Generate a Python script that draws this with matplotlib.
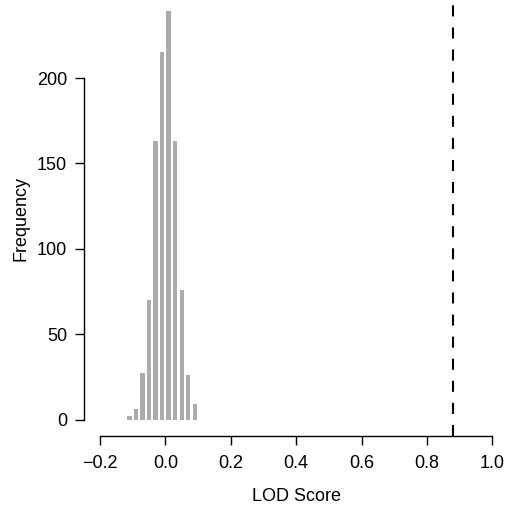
import matplotlib
matplotlib.use("Agg")
import matplotlib.pyplot as plt

# histogram of permutation LOD scores (bin centres, width 0.02)
bin_centers = [-0.11, -0.09, -0.07, -0.05, -0.03, -0.01, 0.01, 0.03, 0.05, 0.07, 0.09]
counts = [2, 6, 27, 70, 163, 215, 239, 163, 76, 26, 9]
observed_lod = 0.88
x_ticks = [-0.2, 0.0, 0.2, 0.4, 0.6, 0.8, 1.0]
x_tick_labels = ["\u22120.2", "0.0", "0.2", "0.4", "0.6", "0.8", "1.0"]
y_ticks = [0, 50, 100, 150, 200]

plt.rcParams["font.family"] = ["Liberation Sans", "DejaVu Sans"]

fig = plt.figure(figsize=(5.08, 5.11), dpi=100)
W, H = 508, 511
# plot region in pixels: left 84.3, right 508, top 0, bottom 436
ax = fig.add_axes([84.3 / W, (H - 436) / H, (W - 84.3) / W, 436 / H])

ax.bar(bin_centers, counts, width=0.0135, color="#ABABAB", linewidth=0)
ax.axvline(observed_lod, color="black", linewidth=1.5, linestyle=(0, (5.3, 5.3)))

ax.set_xlim(-0.248, 1.048)
ax.set_ylim(-9.6, 245.7)

for s in ["top", "right"]:
    ax.spines[s].set_visible(False)
ax.spines["left"].set_bounds(0, 200)
ax.spines["bottom"].set_bounds(-0.2, 1.0)
ax.spines["left"].set_linewidth(1.0)
ax.spines["bottom"].set_linewidth(1.0)

ax.set_xticks(x_ticks)
ax.set_xticklabels(x_tick_labels)
ax.set_yticks(y_ticks)
ax.tick_params(axis="both", length=6.5, width=1.0, labelsize=13)
ax.tick_params(axis="x", pad=7.5)
ax.tick_params(axis="y", pad=6)

ax.set_xlabel("LOD Score", fontsize=13, labelpad=11)
ax.set_ylabel("Frequency", fontsize=13, labelpad=5)

fig.savefig("out.png", dpi=100)
